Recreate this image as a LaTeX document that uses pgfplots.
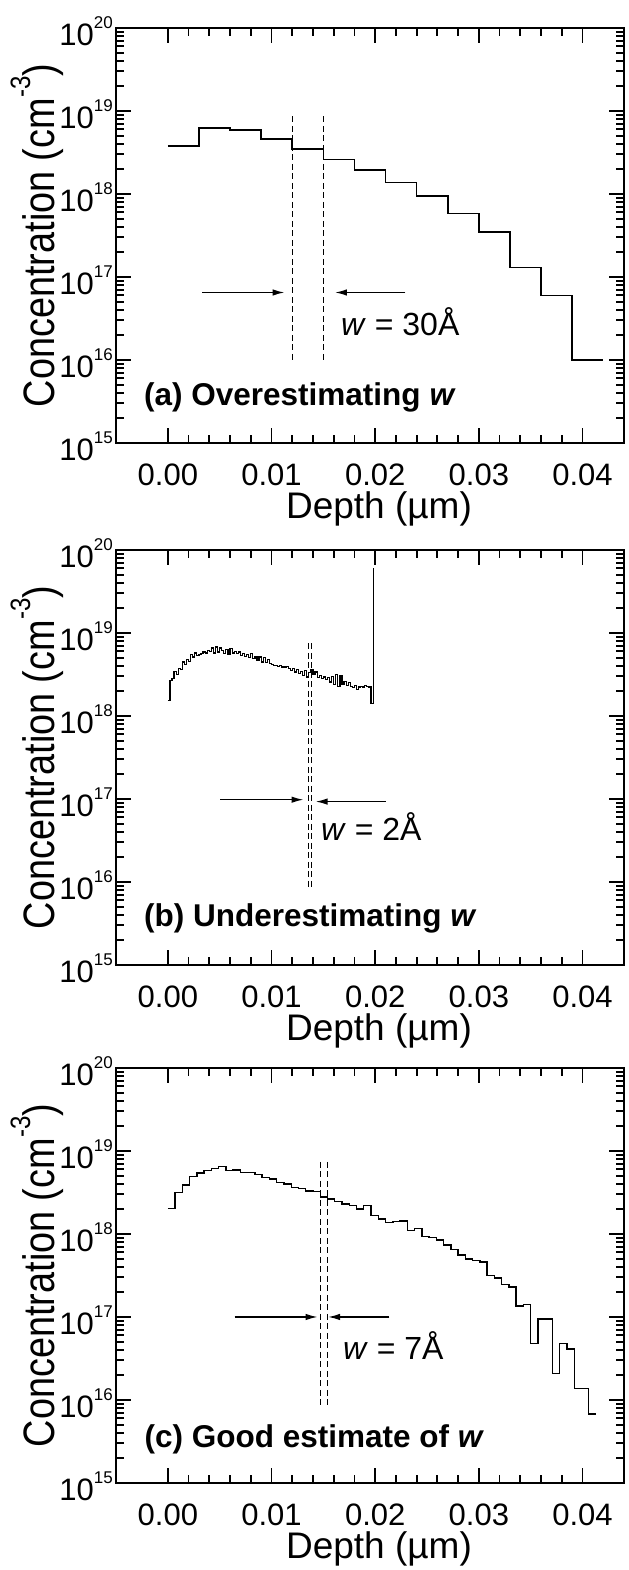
\documentclass[border=0pt]{standalone}
\usepackage{fontspec}
\setmainfont{Liberation Sans}
\usepackage{pgfplots}
\usepackage{pgfplotstable}
\pgfplotsset{compat=1.18}
\usetikzlibrary{arrows.meta}
\newcommand\tenpow[1]{10\raisebox{17bp}{\fontsize{17bp}{17bp}\selectfont #1}}
\newcommand\ylab{\scalebox{0.86}[1]{Concentration (cm\raisebox{24bp}{\fontsize{28bp}{28bp}\selectfont -3})}}
\newcommand\ww{\textit{w}}

\pgfplotsset{
 every axis/.append style={
  width=508bp, height=415bp, scale only axis, anchor=south west,
  xmin=-0.005, xmax=0.044, ymode=log, ymin=1e15, ymax=1e20,
  xtick={0,0.01,0.02,0.03,0.04}, xticklabels={0.00,0.01,0.02,0.03,0.04},
  minor x tick num=4, scaled x ticks=false,
  ytick={1e15,1e16,1e17,1e18,1e19,1e20},
  yticklabels={\tenpow{15},\tenpow{16},\tenpow{17},\tenpow{18},\tenpow{19},\tenpow{20}},
  tick align=inside,
  major tick length=15bp, minor tick length=8bp,
  tick style={black, line width=1.8bp},
  axis line style={line width=2.4bp},
  tick label style={font=\fontsize{31bp}{31bp}\selectfont, inner sep=0pt},
  xticklabel style={anchor=north, yshift=-21bp},
  yticklabel style={anchor=east, xshift=-3bp, yshift=-3bp},
  xlabel={Depth (µm)},
  ylabel={\ylab},
  xlabel style={at={(axis description cs:0.5177,-0.1830)}, anchor=base, inner sep=0pt, font=\fontsize{37bp}{37bp}\selectfont},
  ylabel style={at={(axis description cs:-0.122,0.5)}, anchor=base, inner sep=0pt, font=\fontsize{44bp}{44bp}\selectfont},
  clip=false,
 },
}
\tikzset{
 myarr/.style={line width=1.5bp, -{Latex[length=12bp,width=6.5bp]}},
 myann/.style={anchor=west, inner sep=0pt, font=\fontsize{32bp}{32bp}\selectfont},
 myttl/.style={anchor=west, inner sep=0pt, font=\fontsize{31.5bp}{31.5bp}\selectfont\bfseries},
}

\pgfplotstableread{
x y
0.000 3.8e18
0.003 6.2e18
0.006 5.9e18
0.009 4.6e18
0.012 3.5e18
0.015 2.6e18
0.018 1.95e18
0.021 1.38e18
0.024 9.5e17
0.027 5.8e17
0.030 3.5e17
0.033 1.3e17
0.036 6.0e16
0.039 1.0e16
0.042 1.0e16
}\dataA

\pgfplotstableread{
x y
0.0000 1.55e18
0.0002 2.69e18
0.0004 2.82e18
0.0006 3.47e18
0.0008 3.16e18
0.0010 3.72e18
0.0012 3.63e18
0.0014 4.47e18
0.0016 4.17e18
0.0018 4.79e18
0.0020 4.57e18
0.0022 5.50e18
0.0024 5.13e18
0.0026 5.75e18
0.0028 5.37e18
0.0030 5.50e18
0.0032 5.62e18
0.0034 5.89e18
0.0036 5.75e18
0.0038 6.17e18
0.0040 6.03e18
0.0042 6.61e18
0.0044 5.75e18
0.0046 6.76e18
0.0048 5.89e18
0.0050 6.61e18
0.0052 6.17e18
0.0054 5.62e18
0.0056 6.31e18
0.0058 5.50e18
0.0060 6.46e18
0.0062 5.75e18
0.0064 6.03e18
0.0066 5.62e18
0.0068 5.89e18
0.0070 5.37e18
0.0072 5.62e18
0.0074 5.25e18
0.0076 5.50e18
0.0078 5.01e18
0.0080 5.62e18
0.0082 4.90e18
0.0084 5.25e18
0.0086 4.68e18
0.0088 5.13e18
0.0090 4.47e18
0.0092 5.01e18
0.0094 4.37e18
0.0096 4.79e18
0.0098 4.27e18
0.0100 4.17e18
0.0102 4.07e18
0.0104 4.07e18
0.0106 3.98e18
0.0108 4.07e18
0.0110 3.89e18
0.0112 3.80e18
0.0114 3.98e18
0.0116 3.72e18
0.0118 3.55e18
0.0120 3.72e18
0.0122 3.39e18
0.0124 3.63e18
0.0126 3.24e18
0.0128 3.47e18
0.0130 3.09e18
0.0132 3.55e18
0.0134 2.95e18
0.0136 3.31e18
0.0138 3.63e18
0.0140 3.16e18
0.0142 3.39e18
0.0144 2.88e18
0.0146 3.09e18
0.0148 2.82e18
0.0150 2.95e18
0.0152 2.75e18
0.0154 2.88e18
0.0156 2.57e18
0.0158 3.02e18
0.0160 2.40e18
0.0162 3.16e18
0.0164 2.29e18
0.0166 3.09e18
0.0168 2.40e18
0.0170 2.63e18
0.0172 2.34e18
0.0174 2.51e18
0.0176 2.29e18
0.0178 2.19e18
0.0180 2.34e18
0.0182 2.09e18
0.0184 2.24e18
0.0186 2.29e18
0.0188 2.24e18
0.0190 2.34e18
0.0192 2.29e18
0.0194 2.24e18
0.0196 1.41e18
0.0198 6.03e19
}\dataB

\pgfplotstableread{
x y
0.0000 2.04e18
0.0007 3.16e18
0.0014 3.90e18
0.0021 4.90e18
0.0028 5.40e18
0.0035 5.80e18
0.0042 6.20e18
0.0049 6.50e18
0.0056 5.80e18
0.0063 5.90e18
0.0070 5.50e18
0.0077 5.50e18
0.0084 5.25e18
0.0091 4.80e18
0.0098 4.60e18
0.0105 4.15e18
0.0112 4.00e18
0.0119 3.65e18
0.0126 3.55e18
0.0133 3.30e18
0.0140 3.25e18
0.0147 2.80e18
0.0154 2.63e18
0.0161 2.46e18
0.0168 2.29e18
0.0175 2.19e18
0.0182 2.00e18
0.0189 2.19e18
0.0196 1.66e18
0.0203 1.51e18
0.0210 1.38e18
0.0217 1.41e18
0.0224 1.43e18
0.0231 1.10e18
0.0238 1.17e18
0.0245 9.40e17
0.0252 9.10e17
0.0259 8.50e17
0.0266 7.40e17
0.0273 6.50e17
0.0280 5.60e17
0.0287 5.00e17
0.0294 4.80e17
0.0301 4.60e17
0.0308 3.16e17
0.0315 2.95e17
0.0322 2.45e17
0.0329 2.29e17
0.0336 1.35e17
0.0343 1.41e17
0.0350 4.80e16
0.0357 9.50e16
0.0364 9.50e16
0.0371 2.10e16
0.0378 4.80e16
0.0385 4.10e16
0.0392 1.38e16
0.0399 1.38e16
0.0406 6.80e15
0.0413 6.80e15
}\dataC

\begin{document}
\begin{tikzpicture}
\useasboundingbox (0bp,0bp) rectangle (629bp,1570bp);

% ---------- (a) ----------
\begin{axis}[at={(116bp,1127bp)}]
\addplot[black, line width=1.5bp, const plot mark left, mark=none] table {\dataA};
\addplot[black, line width=1.4bp, dash pattern=on 6bp off 3.5bp, mark=none] coordinates {(0.012,8.6e18) (0.012,1e16)};
\addplot[black, line width=1.4bp, dash pattern=on 6bp off 3.5bp, mark=none] coordinates {(0.015,8.6e18) (0.015,1e16)};
\draw[myarr] (axis cs:0.0033,6.5e16) -- (axis cs:0.01126,6.5e16);
\draw[myarr] (axis cs:0.0229,6.5e16) -- (axis cs:0.01612,6.5e16);
\node[myann] at (axis cs:0.0167,2.9e16) {\ww{} = 30Å};
\node[myttl] at (axis cs:-0.0023,3.5e15) {(a) Overestimating \ww};
\end{axis}

% ---------- (b) ----------
\begin{axis}[at={(116bp,605bp)}]
\addplot[black, line width=1.2bp, const plot mark left, mark=none] table {\dataB};
\addplot[black, line width=1.1bp, dash pattern=on 6bp off 3.5bp, mark=none] coordinates {(0.01355,7.5e18) (0.01355,8.7e15)};
\addplot[black, line width=1.1bp, dash pattern=on 6bp off 3.5bp, mark=none] coordinates {(0.01387,7.5e18) (0.01387,8.7e15)};
\draw[myarr] (axis cs:0.00505,9.8e16) -- (axis cs:0.01309,9.8e16);
\draw[myarr] (axis cs:0.0210,9.3e16) -- (axis cs:0.01425,9.3e16);
\node[myann] at (axis cs:0.01476,4.6e16) {\ww{} = 2Å};
\node[myttl] at (axis cs:-0.0023,3.6e15) {(b) Underestimating \ww};
\end{axis}

% ---------- (c) ----------
\begin{axis}[at={(116bp,87bp)}]
\addplot[black, line width=1.4bp, const plot mark left, mark=none] table {\dataC};
\addplot[black, line width=1.3bp, dash pattern=on 6bp off 3.5bp, mark=none] coordinates {(0.0147,7.4e18) (0.0147,8.5e15)};
\addplot[black, line width=1.3bp, dash pattern=on 6bp off 3.5bp, mark=none] coordinates {(0.0154,7.4e18) (0.0154,8.5e15)};
\draw[myarr] (axis cs:0.00643,1e17) -- (axis cs:0.01445,1e17);
\draw[myarr] (axis cs:0.02138,1e17) -- (axis cs:0.01545,1e17);
\node[myann] at (axis cs:0.01688,4.5e16) {\ww{} = 7Å};
\node[myttl] at (axis cs:-0.00225,3.4e15) {(c) Good estimate of \ww};
\end{axis}
\end{tikzpicture}
\end{document}
